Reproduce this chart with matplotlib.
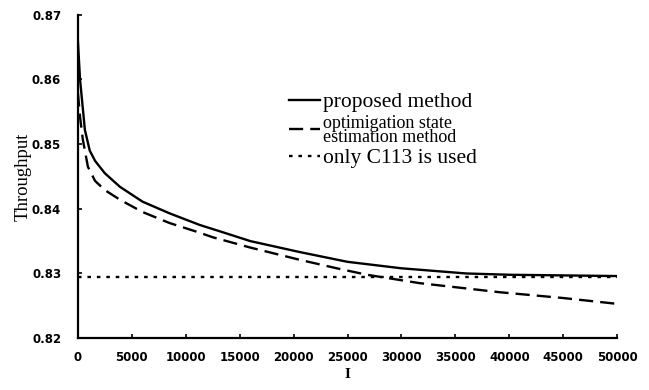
import matplotlib
matplotlib.use('Agg')
import matplotlib.pyplot as plt

# values
x_prop = [0, 200, 650, 1100, 1600, 2500, 3900, 6000, 8500, 11300, 13200, 16000,
          20600, 25000, 30000, 36000, 40000, 45000, 50000]
y_prop = [0.866, 0.860, 0.8522, 0.849, 0.8474, 0.8455, 0.8434, 0.8411, 0.8393,
          0.8375, 0.8365, 0.835, 0.8333, 0.8318, 0.8308, 0.830, 0.8298, 0.8297, 0.8296]

x_opt = [0, 200, 460, 930, 1600, 2500, 3900, 6000, 8500, 11300, 12500, 16000,
         20600, 24000, 26800, 31700, 39100, 45000, 50000]
y_opt = [0.858, 0.8542, 0.8507, 0.8465, 0.8443, 0.8429, 0.8414, 0.8395, 0.8378,
         0.8363, 0.8356, 0.834, 0.8321, 0.8308, 0.8298, 0.8285, 0.8271, 0.8262, 0.8253]

x_c113 = [0, 50000]
y_c113 = [0.8294, 0.8294]

labels = ['proposed method', 'optimigation state\nestimation method', 'only C113 is used']
xticks = list(range(0, 50001, 5000))
yticks = [0.82, 0.83, 0.84, 0.85, 0.86, 0.87]

fig = plt.figure(figsize=(6.49, 3.9), dpi=100)
ax = fig.add_axes([0.120, 0.133, 0.831, 0.829])

ax.plot(x_prop, y_prop, color='black', lw=1.7, label=labels[0])
ax.plot(x_opt, y_opt, color='black', lw=1.7, ls=(0, (6, 3)), label=labels[1])
ax.plot(x_c113, y_c113, color='black', lw=1.7, ls=(0, (1.5, 2.5)), label=labels[2])

ax.set_xlim(0, 50000)
ax.set_ylim(0.82, 0.87)
ax.set_xticks(xticks)
ax.set_yticks(yticks)
ax.set_xticklabels([str(v) for v in xticks], fontsize=8.5, fontweight='bold')
ax.set_yticklabels([f'{v:.2f}' for v in yticks], fontsize=8.5, fontweight='bold')
ax.tick_params(direction='in', length=3, width=1.2)
ax.tick_params(axis='x', pad=9)
ax.tick_params(axis='y', pad=12)
ax.spines['top'].set_visible(False)
ax.spines['right'].set_visible(False)
ax.spines['left'].set_linewidth(1.6)
ax.spines['bottom'].set_linewidth(1.6)

ax.set_ylabel('Throughput', family='Liberation Serif', fontsize=13.5, labelpad=0)
ax.set_xlabel('I', family='Liberation Serif', fontsize=11, fontweight='bold', labelpad=3)

leg = ax.legend(loc='upper left', bbox_to_anchor=(0.356, 0.82), frameon=False,
                prop={'family': 'Liberation Serif', 'size': 15.5},
                handlelength=1.45, handletextpad=0.1, labelspacing=0.1)
leg.get_texts()[1].set_fontsize(13)
leg.get_texts()[1].set_linespacing(0.8)

fig.savefig('out.png', dpi=100)
